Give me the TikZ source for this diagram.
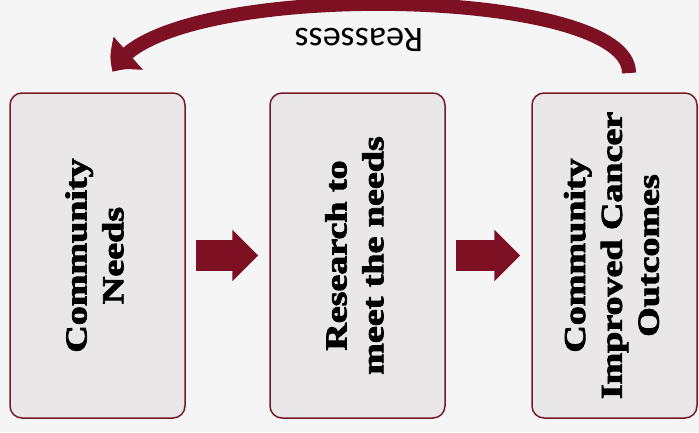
\documentclass[tikz,border=0pt]{standalone}
\usepackage{fontspec}
\setmainfont{Liberation Serif}
\newfontfamily\stagefont[FakeBold=2.5]{Liberation Serif}
\newfontfamily\reassessfont{Carlito}
\usetikzlibrary{arrows.meta,bending}

\definecolor{boxred}{RGB}{118,26,42}
\definecolor{arrowred}{RGB}{125,16,34}
\definecolor{boxfill}{RGB}{234,231,233}
\definecolor{paper}{RGB}{245,245,245}

% rotated, slightly squeezed box text
\newcommand{\stagetext}[1]{\scalebox{0.8}[1]{\rotatebox{90}{\stagefont\fontsize{38}{46}\selectfont\bfseries
  \begin{tabular}{@{}c@{}}#1\end{tabular}}}}

\begin{document}
\begin{tikzpicture}[x=1pt, y=-1pt,
  stagebox/.style={draw=boxred, line width=1.5pt, fill=boxfill, rounded corners=12pt,
    minimum height=325pt, inner sep=0pt},
  blockarrow/.style={arrowred, line width=31pt, -{Triangle[length=26pt, width=50pt]},
    shorten <=10pt, shorten >=11pt}]
	\useasboundingbox (0,0) rectangle (699,432);
	\fill[paper] (0,0) rectangle (699,432);
	\node[stagebox, minimum width=175pt] (needs)at(97.5, 255.5) {\stagetext{Community\\Needs}};
	\node[stagebox, minimum width=175pt] (research)at(357.5, 255.5) {\stagetext{Research to\\meet the needs}};
	\node[stagebox, minimum width=165pt] (outcomes)at(614.5, 255.5) {\stagetext{Community\\Improved Cancer\\Outcomes}};
	\draw[blockarrow] (needs) -- (research);
	\draw[blockarrow] (research) -- (outcomes);
	\coordinate (loopstart)at(629, 73);
	\coordinate (loopend)at(113, 72);
	\draw[arrowred, line width=14pt, -{Triangle[length=23pt, width=44pt, bend]}] (loopstart) .. controls (630, -16) and (150, -22) .. (loopend);
	\node[font=\reassessfont\fontsize{36}{40}\selectfont, rotate=180] (reassess)at(359, 40) {Reassess};
\end{tikzpicture}
\end{document}
